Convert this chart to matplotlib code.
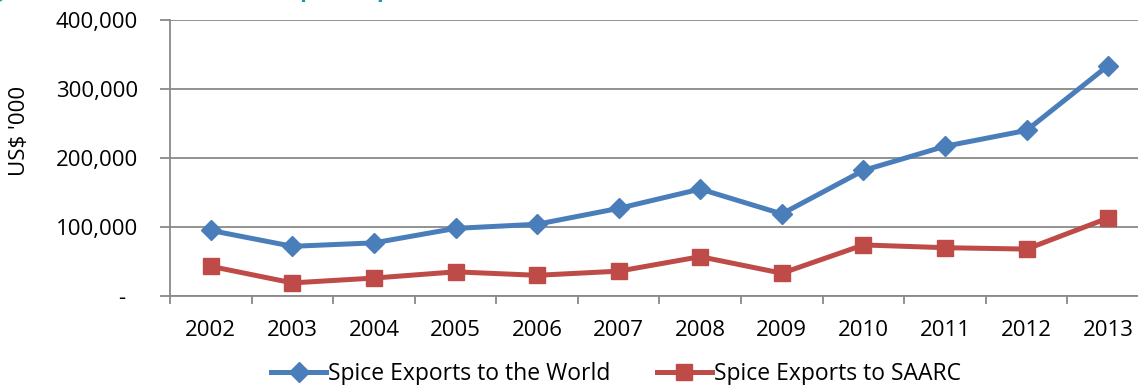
import matplotlib.pyplot as plt
import matplotlib as mpl
from matplotlib.ticker import FuncFormatter, MultipleLocator
import numpy as np

mpl.rcParams['font.family'] = ['Open Sans', 'DejaVu Sans']

years = ['2002', '2003', '2004', '2005', '2006', '2007',
         '2008', '2009', '2010', '2011', '2012', '2013']
world = [95000, 72000, 77000, 98000, 104000, 127000,
         155000, 119000, 182000, 217000, 240000, 334000]
saarc = [43000, 19000, 26000, 35000, 30000, 36000,
         57000, 33000, 74000, 70000, 68000, 113000]

BLUE = '#4a7ebb'
RED = '#be4b48'
GRID = '#898989'
TEAL = '#1a9aa8'

fig = plt.figure(figsize=(11.38, 3.85), dpi=100)
ax = fig.add_axes([170 / 1138, 1 - 296 / 385, 979 / 1138, 276 / 385])

x = np.arange(len(years))
ax.plot(x, world, color=BLUE, lw=3.6, marker='D', ms=10.5,
        label='Spice Exports to the World', zorder=3)
ax.plot(x, saarc, color=RED, lw=3.6, marker='s', ms=12,
        label='Spice Exports to SAARC', zorder=3)

ax.set_xlim(-0.5, len(years) - 0.5)
ax.set_ylim(0, 400000)
ax.yaxis.set_major_locator(MultipleLocator(100000))
ax.yaxis.set_major_formatter(FuncFormatter(lambda v, p: '-  ' if v == 0 else f'{int(v):,}'))
ax.set_xticks(x)
ax.set_xticklabels(years)
ax.set_xticks(np.arange(-0.5, len(years), 1), minor=True)

ax.grid(axis='y', color=GRID, lw=1.3, zorder=0)
for s in ['top', 'right']:
    ax.spines[s].set_visible(False)
for s in ['left', 'bottom']:
    ax.spines[s].set_color(GRID)
    ax.spines[s].set_linewidth(1.3)

ax.tick_params(axis='y', length=7, width=1.3, color=GRID, labelsize=16, pad=16)
ax.tick_params(axis='x', which='major', length=0, labelsize=16, pad=17)
ax.tick_params(axis='x', which='minor', length=6, width=1.3, color=GRID)

fig.text(20 / 1138, 1 - 131 / 385, "US$ '000", rotation=90, fontsize=16,
         ha='center', va='center')

# title sits mostly above the canvas edge
fig.text(-28 / 1138, 1 + 3 / 385, 'Figure 5: Trends in Sri Lanka Spice Exports, 2002-2013',
         color=TEAL, fontsize=16, fontweight='bold', ha='left', va='baseline')

fig.legend(loc='center', bbox_to_anchor=(616 / 1138, 1 - 374.5 / 385), ncol=2,
           frameon=False, fontsize=16.5, handlelength=2.4, columnspacing=2.0,
           handletextpad=0.1, borderaxespad=0)

fig.savefig('out.png', dpi=100)
